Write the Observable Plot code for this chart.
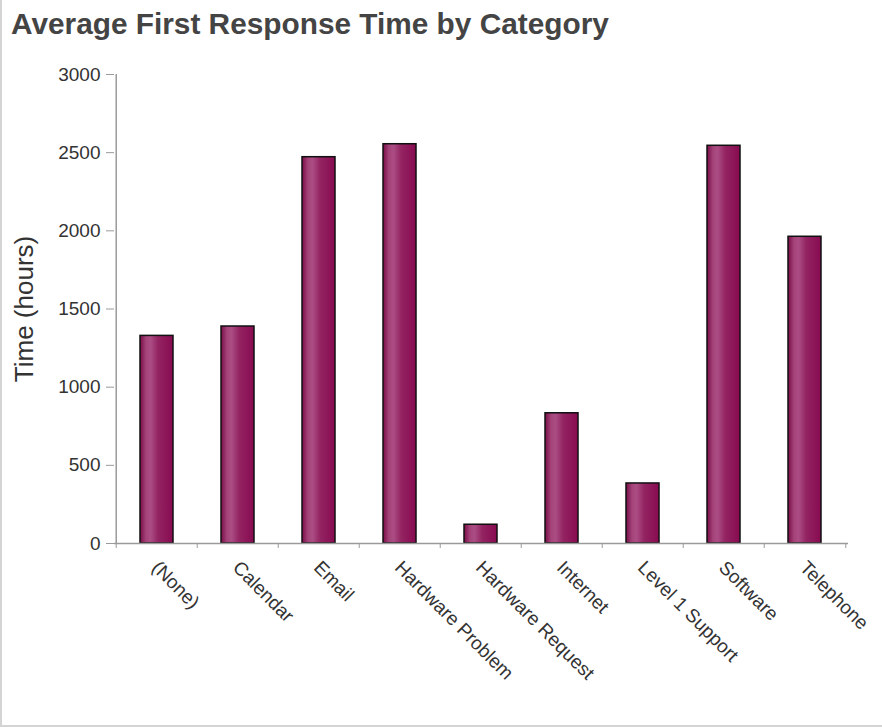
<!DOCTYPE html>
<html><head><meta charset="utf-8">
<script src="https://cdn.jsdelivr.net/npm/d3@7"></script>
<script src="https://cdn.jsdelivr.net/npm/@observablehq/plot@0.6"></script>
<style>
body{margin:0;background:#fff;font-family:"Liberation Sans",Arial,sans-serif;}
#wrap{position:relative;width:880px;height:725px;border-left:2px solid #d4d4d4;border-bottom:2px solid #d4d4d4;overflow:hidden;background:#fff}
#title{position:absolute;left:9px;top:7px;font-weight:bold;font-size:29.8px;color:#444;white-space:nowrap}
#chart{position:absolute;left:0;top:50px}
</style></head><body>
<div id="wrap"><div id="title">Average First Response Time by Category</div><div id="chart"></div></div>
<script>
const categories = ["(None)", "Calendar", "Email", "Hardware Problem", "Hardware Request", "Internet", "Level 1 Support", "Software", "Telephone"];
const values = [1328, 1388, 2471, 2554, 120, 833, 384, 2544, 1962];
const yTicks = [0, 500, 1000, 1500, 2000, 2500, 3000];
const yLabel = "Time (hours)";

const data = categories.map((c, i) => ({category: c, time: values[i]}));
const W = 880, H = 675, mL = 112, mR = 34, mT = 24, mB = 182;
const step = (W - mL - mR) / categories.length;

const chart = Plot.plot({
  width: W, height: H,
  marginLeft: mL, marginRight: mR, marginTop: mT, marginBottom: mB,
  style: {fontFamily: "'Liberation Sans', Arial, sans-serif", color: "#333", background: "transparent"},
  x: {type: "band", domain: categories, paddingInner: 0.59, paddingOuter: 0.295},
  y: {domain: [0, 3000]},
  marks: [
    Plot.barY(data, {x: "category", y: "time", fill: "url(#barGrad)", stroke: "#111", strokeWidth: 1.5}),
    Plot.ruleY([0], {stroke: "#9a9a9a", strokeWidth: 1.5}),
    Plot.ruleX([categories[0]], {dx: -step / 2, stroke: "#9a9a9a", strokeWidth: 1.5}),
    Plot.axisY({ticks: yTicks, tickSize: 8, tickPadding: 6, fontSize: 19, tickFormat: d => String(d), stroke: "#9a9a9a", label: null}),
    Plot.axisX({ticks: categories, tickSize: 5, tickFormat: () => "", dx: -step / 2, stroke: "#9a9a9a", label: null}),
    Plot.axisX({ticks: [categories[categories.length - 1]], tickSize: 5, tickFormat: () => "", dx: step / 2, stroke: "#9a9a9a", label: null}),
    Plot.axisX({ticks: categories, tickSize: 0, tickPadding: 21, tickRotate: 45, fontSize: 19, dx: -2, label: null}),
    Plot.text([yLabel], {frameAnchor: "left", textAnchor: "middle", rotate: -90, dx: -90, fontSize: 26, fill: "#333"})
  ]
});

const ns = "http://www.w3.org/2000/svg";
const defs = document.createElementNS(ns, "defs");
const grad = document.createElementNS(ns, "linearGradient");
grad.setAttribute("id", "barGrad");
grad.setAttribute("x1", "0"); grad.setAttribute("x2", "1");
grad.setAttribute("y1", "0"); grad.setAttribute("y2", "0");
[["0%", "#7a0c48"], ["18%", "#a4437a"], ["32%", "#ab4d84"], ["55%", "#932462"], ["100%", "#880a50"]].forEach(([o, c]) => {
  const s = document.createElementNS(ns, "stop");
  s.setAttribute("offset", o); s.setAttribute("stop-color", c);
  grad.appendChild(s);
});
defs.appendChild(grad);
chart.insertBefore(defs, chart.firstChild);
document.getElementById("chart").appendChild(chart);
</script>
</body></html>
